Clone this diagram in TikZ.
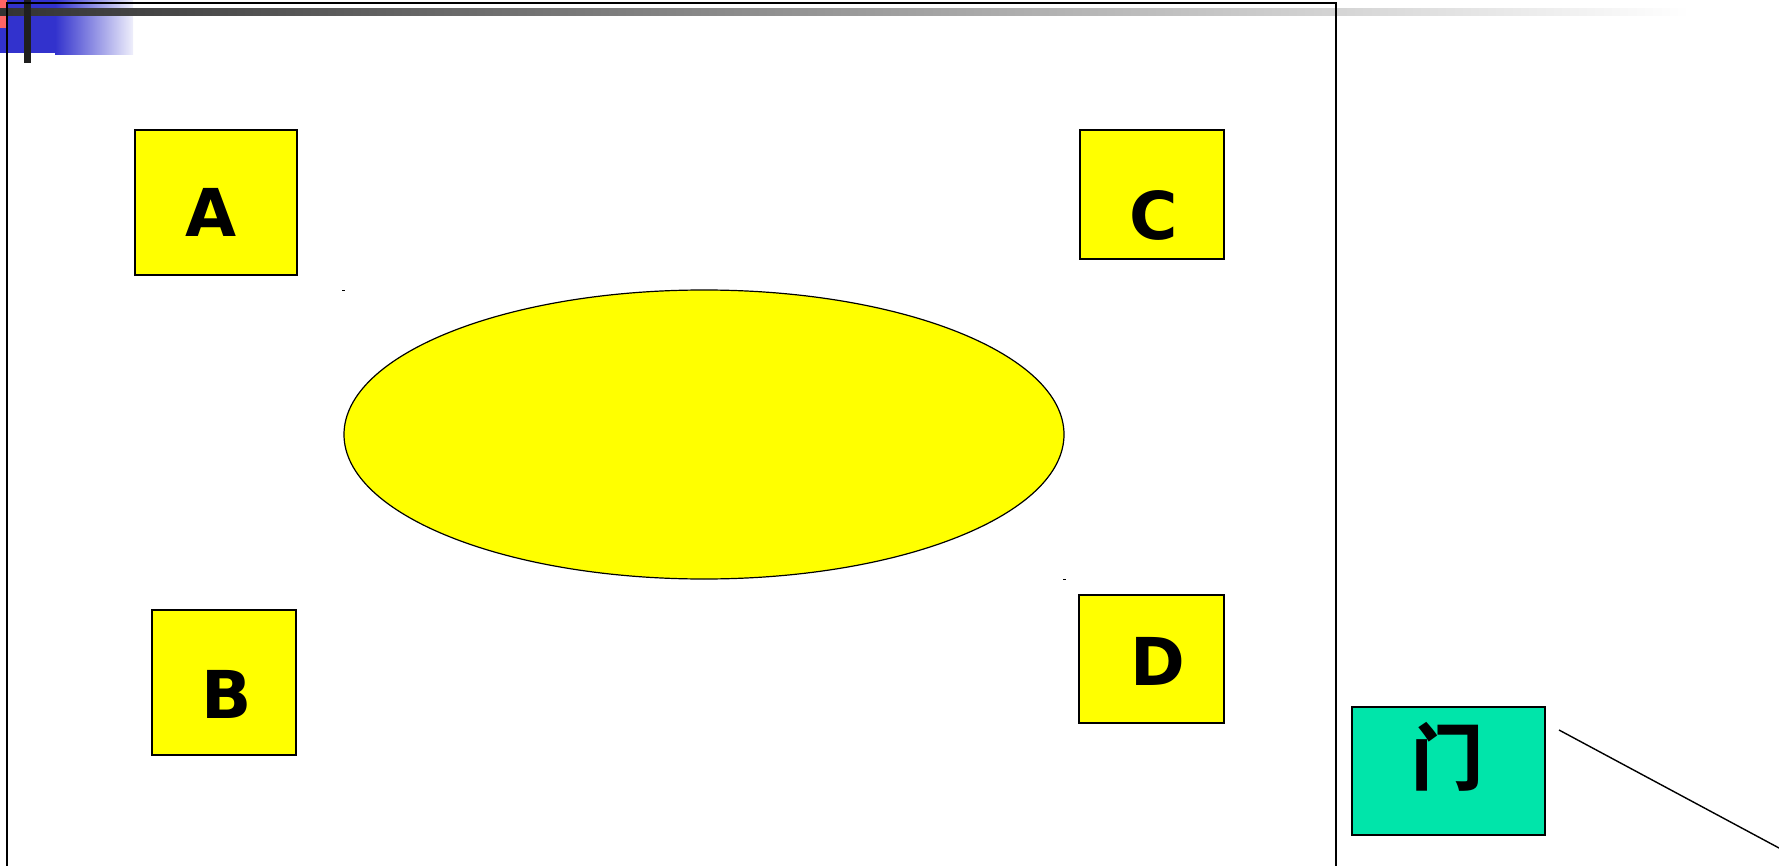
\documentclass[tikz,border=0pt]{standalone}
\usepackage{fontspec}
\usetikzlibrary{shapes.geometric}
\newfontfamily\boxfont{DejaVu Sans}
\newfontfamily\cjkfont{Noto Sans CJK SC}
\definecolor{roomyellow}{RGB}{255,255,0}
\definecolor{doorgreen}{RGB}{0,229,170}
\definecolor{barblue}{RGB}{50,50,205}
\definecolor{barred}{RGB}{255,100,100}

\begin{document}
\begin{tikzpicture}[x=1pt, y=-1pt,
    seat/.style={draw=black, line width=2pt, fill=roomyellow, inner sep=0pt},
    letter/.style={anchor=base, inner sep=0pt, font=\boxfont\bfseries\fontsize{66}{66}\selectfont}]
    \useasboundingbox (0,0) rectangle (1779,866);

    % Draw title bar decoration
    \fill[barblue] (0,0) rectangle (55,53);
    \shade[left color=barblue, right color=barblue!8] (55,0) rectangle (133,55);
    \fill[barred] (0,0) rectangle (7,28);
    \shade[left color=black!80, right color=white] (0,9) rectangle (1690,16);
    \fill[black!88] (24,0) rectangle (31,63);

    % Draw room outline
    \draw[line width=1.6pt] (7,866) -- (7,3) -- (1336,3) -- (1336,866);

    % Draw the table
    \node[ellipse, draw=black, line width=1.2pt, fill=roomyellow, inner sep=0pt,
          minimum width=720pt, minimum height=289pt] (table) at (704,434.5) {};
    \fill (342,290) rectangle (345,291.5);
    \fill (1063,578.5) rectangle (1066,580);

    % Draw the four seats
    \node[seat, minimum width=162pt, minimum height=145pt] (seatA) at (216,202.5) {};
    \node[seat, minimum width=144pt, minimum height=145pt] (seatB) at (224,682.5) {};
    \node[seat, minimum width=144pt, minimum height=129pt] (seatC) at (1152,194.5) {};
    \node[seat, minimum width=145pt, minimum height=128pt] (seatD) at (1151.5,659) {};

    % Add seat labels
    \node[letter] (labA) at (211.5,237) {A};
    \node[letter] (labB) at (227,718) {B};
    \node[letter] (labC) at (1154,240) {C};
    \node[letter] (labD) at (1158,685) {D};

    % Draw the door
    \node[draw=black, line width=2pt, fill=doorgreen, inner sep=0pt,
          minimum width=193pt, minimum height=128pt] (door) at (1448.5,771) {};
    \node[inner sep=0pt, font=\cjkfont\bfseries\fontsize{72}{72}\selectfont] (doorlab) at (1447,757) {门};

    % Door swing line
    \coordinate (swingA) at (1559,730);
    \coordinate (swingB) at (1779,848);
    \draw[line width=1.4pt] (swingA) -- (swingB);
\end{tikzpicture}
\end{document}
